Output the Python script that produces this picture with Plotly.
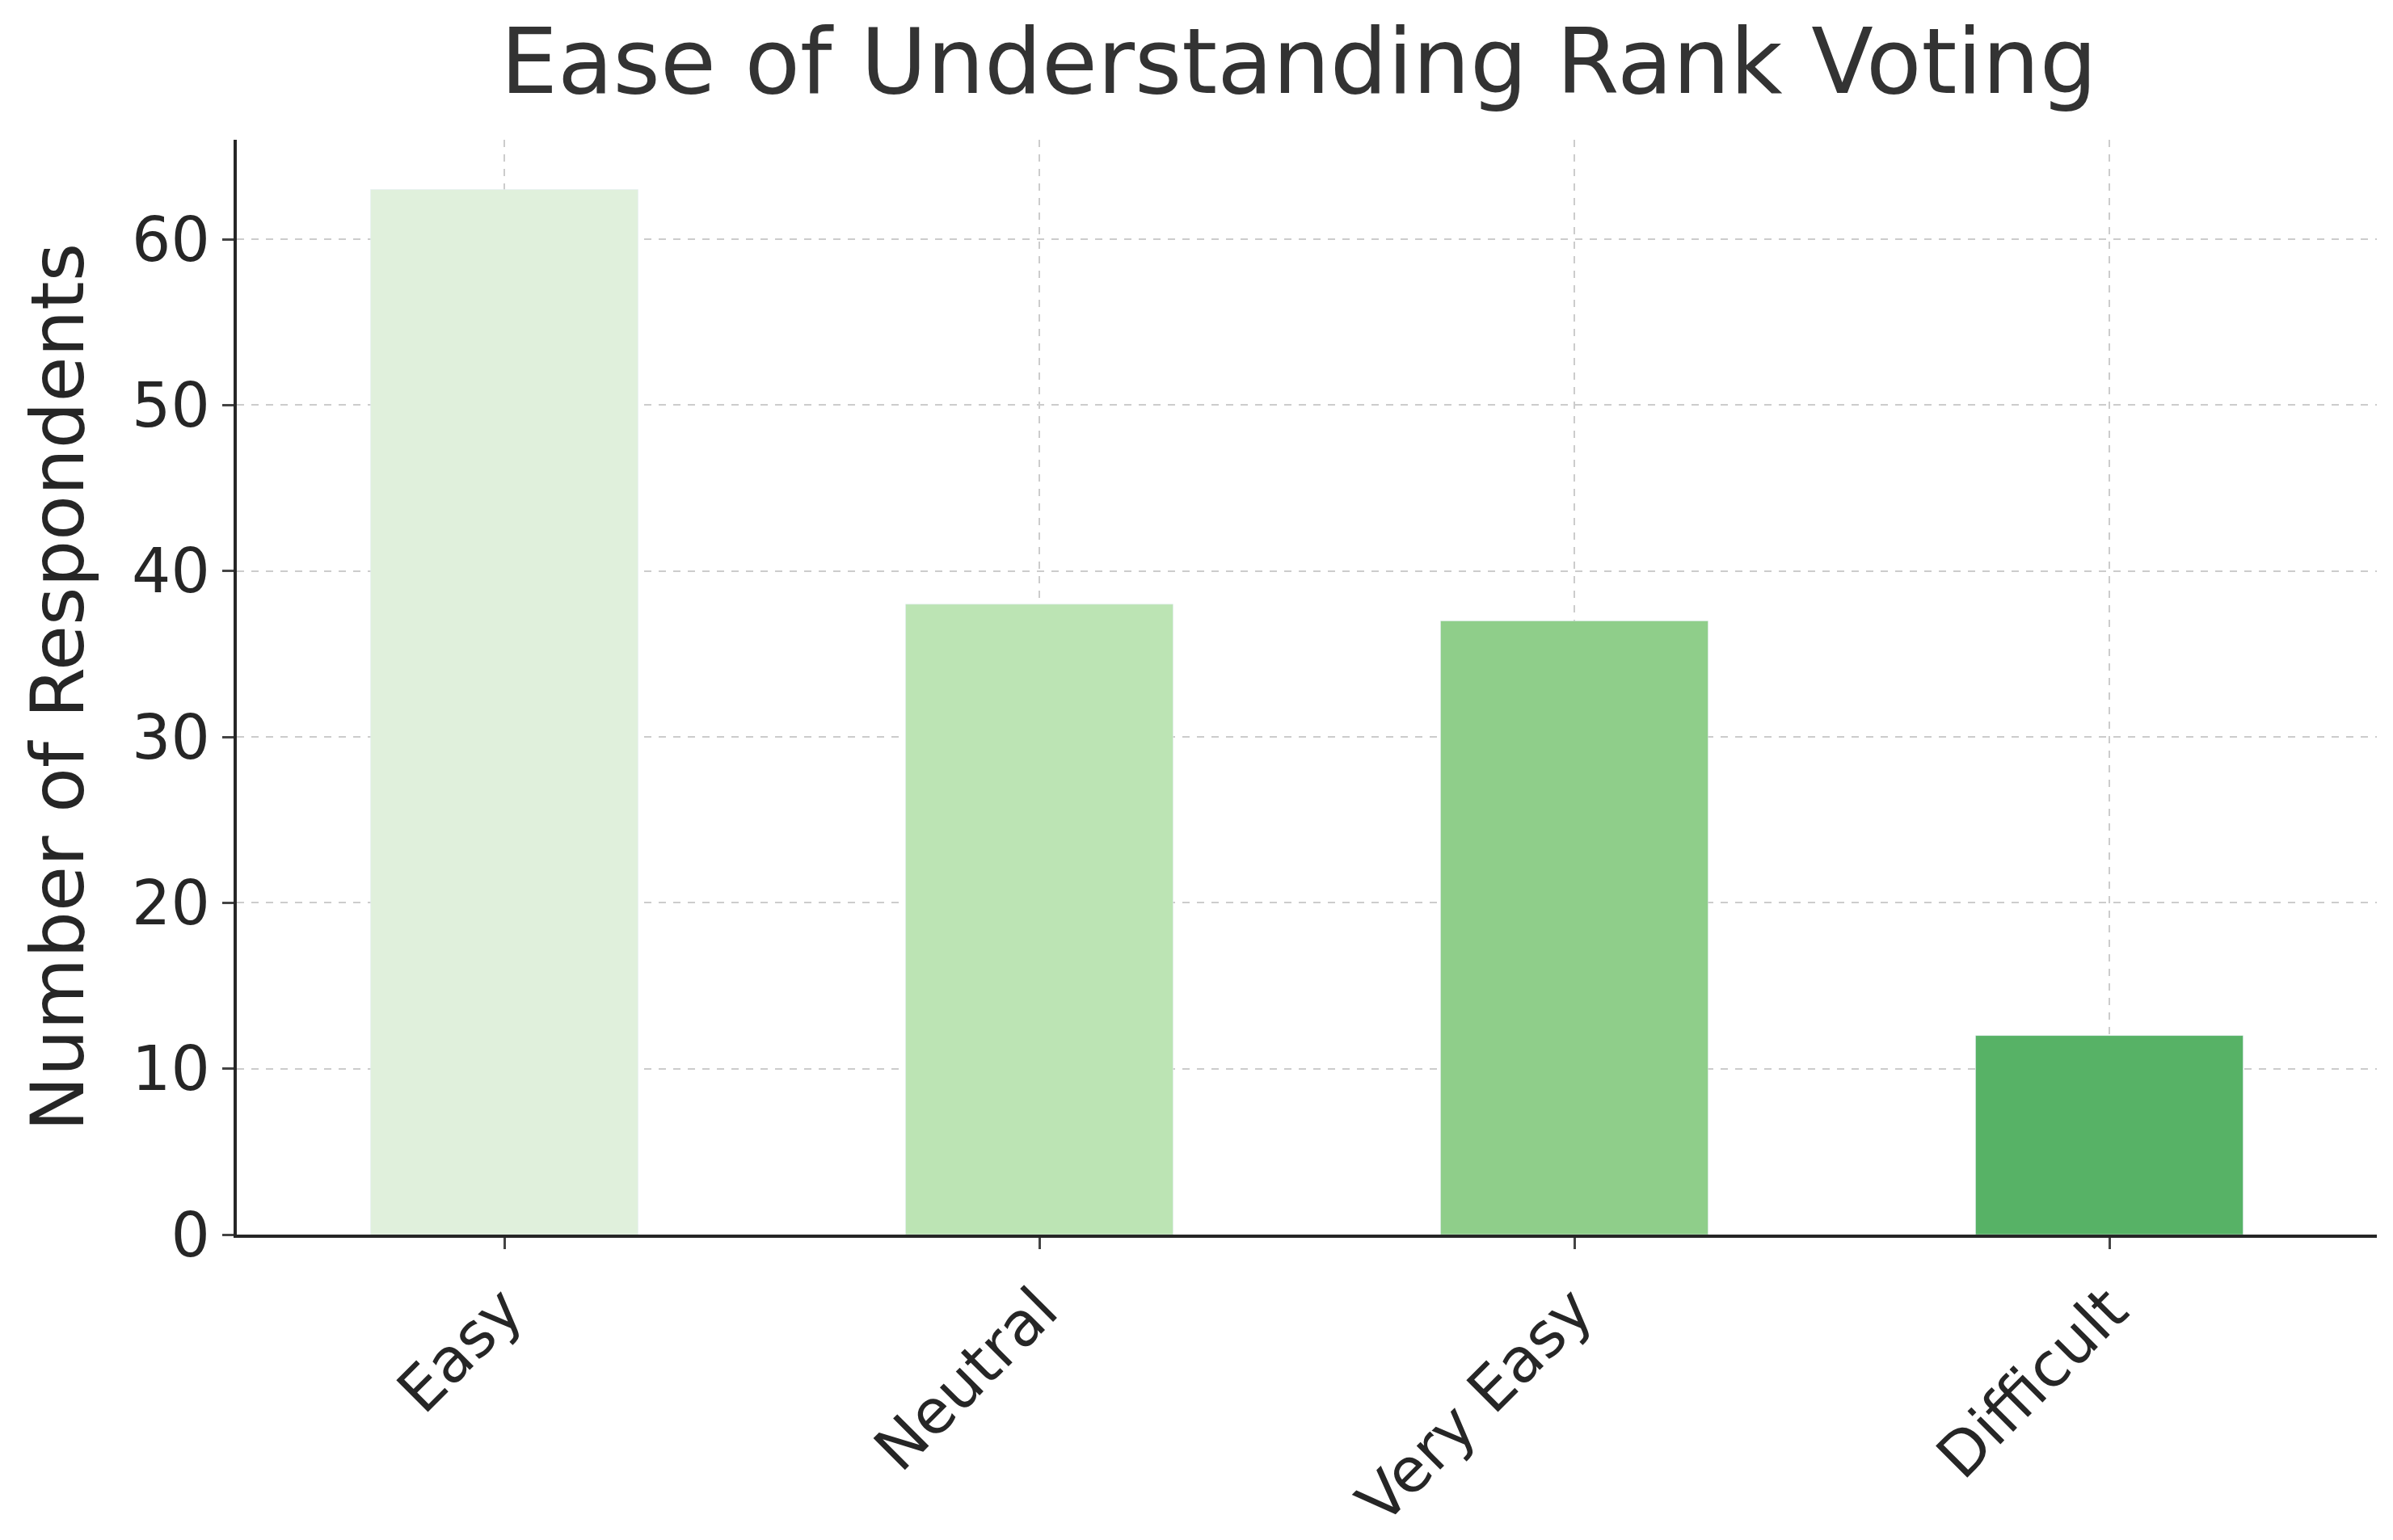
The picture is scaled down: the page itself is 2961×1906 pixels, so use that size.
import plotly.graph_objects as go

categories = ["Easy", "Neutral", "Very Easy", "Difficult"]
counts = [63, 38, 37, 12]
colors = ["#e0f0dc", "#bce4b4", "#8fce8a", "#57b266"]

fig = go.Figure(go.Bar(x=categories, y=counts, marker_color=colors, width=0.5))

fig.update_layout(
    width=2961, height=1906,
    plot_bgcolor="white", paper_bgcolor="white",
    font=dict(family="DejaVu Sans", color="#262626", size=76),
    title=dict(text="Ease of Understanding Rank Voting", x=0.54, xanchor="center",
               y=0.985, yanchor="top", font=dict(size=112, color="#333333")),
    margin=dict(l=285, r=28, t=165, b=372),
    showlegend=False,
)
fig.update_xaxes(range=[-0.5, 3.5], tickangle=-45, showline=True, linecolor="#262626",
                 linewidth=4, ticks="outside", ticklen=14, tickwidth=3,
                 showgrid=True, gridcolor="#cccccc", griddash="dash", gridwidth=2)
fig.update_yaxes(range=[0, 66], dtick=10, showline=True, linecolor="#262626",
                 linewidth=4, ticks="outside", ticklen=14, tickwidth=3,
                 showgrid=True, gridcolor="#cccccc", griddash="dash", gridwidth=2,
                 zeroline=False, title=dict(text="Number of Respondents", standoff=30))

fig.write_html("out.html")
